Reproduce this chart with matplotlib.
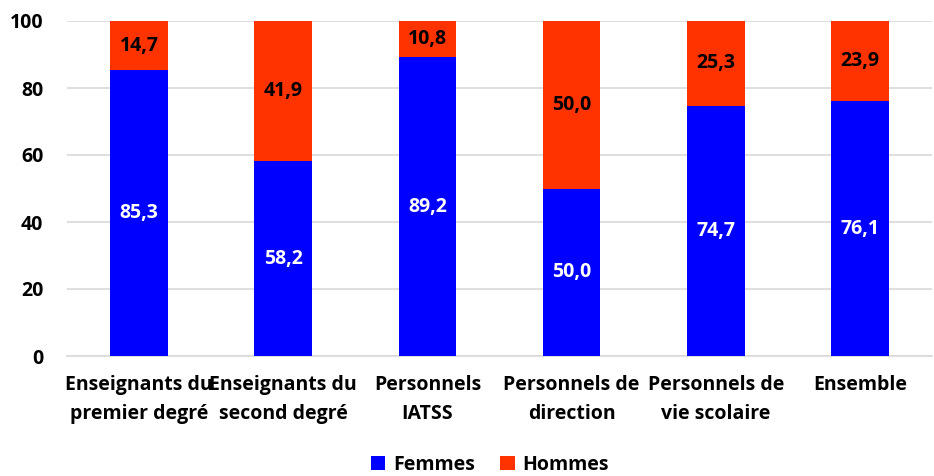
import matplotlib

matplotlib.use("Agg")
import matplotlib.pyplot as plt
import numpy as np

categories = [
    "Enseignants du\npremier degré",
    "Enseignants du\nsecond degré",
    "Personnels\nIATSS",
    "Personnels de\ndirection",
    "Personnels de\nvie scolaire",
    "Ensemble",
]
femmes = [85.3, 58.2, 89.2, 50.0, 74.7, 76.1]
hommes = [14.7, 41.9, 10.8, 50.0, 25.3, 23.9]

BLUE = "#0000FF"
RED = "#FF3300"

plt.rcParams["font.family"] = ["Open Sans", "DejaVu Sans"]

fig = plt.figure(figsize=(9.34, 4.76), dpi=100)
ax = fig.add_axes([67 / 934, 1 - 356 / 476, (932 - 67) / 934, 335 / 476])

x = np.arange(len(categories))
width = 0.4
b1 = ax.bar(x, femmes, width, color=BLUE, label="Femmes", zorder=3)
b2 = ax.bar(x, hommes, width, bottom=femmes, color=RED, label="Hommes", zorder=3)

def fmt(v):
    return f"{v:.1f}".replace(".", ",")

for xi, f, h in zip(x, femmes, hommes):
    ax.text(xi, f / 2, fmt(f), ha="center", va="center", color="white",
            fontsize=14, fontweight="bold", zorder=4)
    ax.text(xi, f + h / 2, fmt(h), ha="center", va="center", color="black",
            fontsize=14, fontweight="bold", zorder=4)

ax.set_ylim(0, 100)
ax.set_xlim(-0.5, len(categories) - 0.5)
ax.set_yticks(range(0, 101, 20))
ax.yaxis.grid(True, color="#d9d9d9", linewidth=1.2, zorder=0)
ax.set_xticks(x)
ax.set_xticklabels(categories, fontsize=14, fontweight="bold", linespacing=1.6)
ax.tick_params(axis="y", labelsize=14, length=0, pad=17)
ax.tick_params(axis="x", length=0, pad=14)
for lab in ax.get_yticklabels():
    lab.set_fontweight("bold")
for s in ["top", "right", "left"]:
    ax.spines[s].set_visible(False)
ax.spines["bottom"].set_color("#d9d9d9")
ax.spines["bottom"].set_linewidth(1.2)

fig.legend(handles=[b1, b2], loc="center", bbox_to_anchor=(490 / 934, 1 - 465 / 476),
           ncol=2, frameon=False, prop={"size": 14, "weight": "bold"},
           handlelength=0.75, handleheight=0.75, handletextpad=0.4, columnspacing=1.3)

fig.savefig("out.png", dpi=100)
